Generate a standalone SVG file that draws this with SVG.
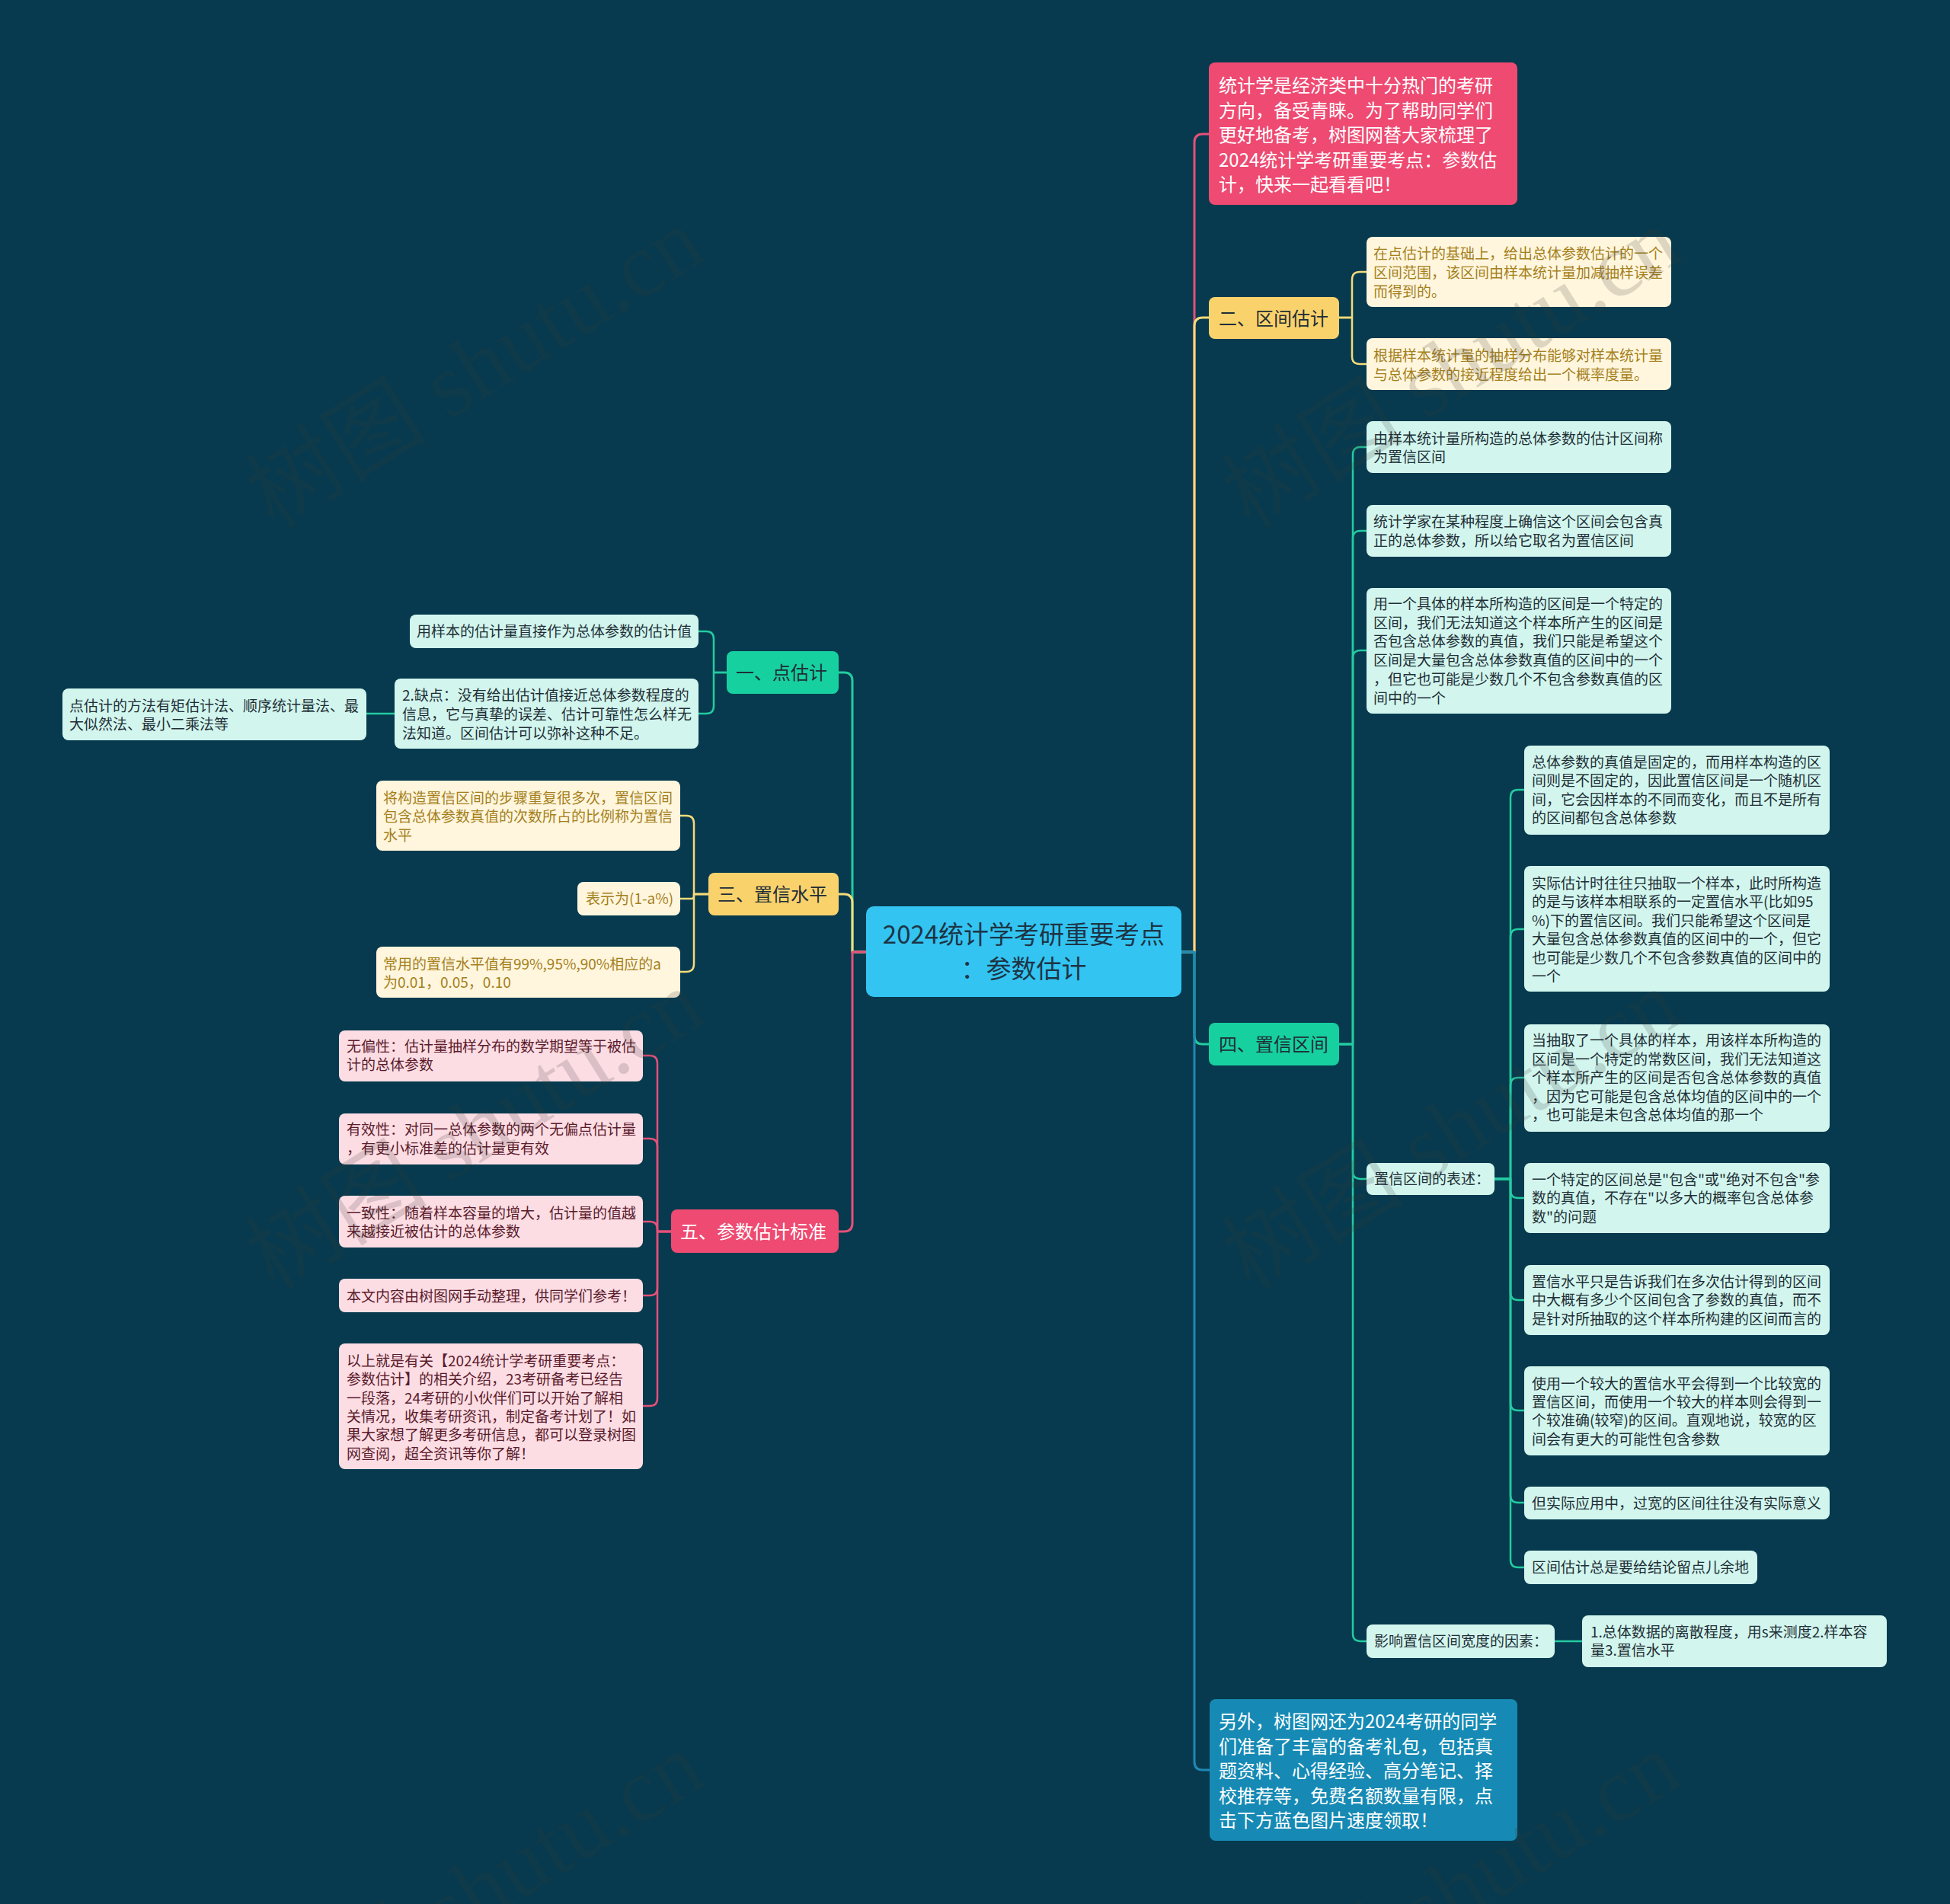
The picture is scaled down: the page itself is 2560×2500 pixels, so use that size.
<svg xmlns="http://www.w3.org/2000/svg" width="2560" height="2500" viewBox="0 0 2560 2500">
<style>
text{font-family:"Noto Sans CJK SC","Noto Sans",sans-serif}
.s{font-size:19px}
.m{font-size:24px}
.dk{fill:#1F2E36}
.gd{fill:#A57F1C}
.mr{fill:#5B1B2B}
.wh{fill:#FFFFFF}
.mint{fill:#D2F6EE}
.cream{fill:#FFF6DD}
.rose{fill:#FCDDE4}
.pk{fill:#EE4A72}
.yl{fill:#FAD26C}
.gr{fill:#17D0A0}
.bl{fill:#168AB4}
.ln{fill:none;stroke-linecap:round;stroke-linejoin:round}
.w3{stroke-width:3}
.w2{stroke-width:2.5}
.cp{stroke:#E5507A}
.cy{stroke:#F5DB7A}
.cg{stroke:#24CBA0}
.cb{stroke:#2188B5}
.wm{font-family:"Liberation Serif","Noto Sans CJK SC",serif;font-size:120px;fill:#3A3A3A;opacity:0.17}
</style>
<rect x="0" y="0" width="2560" height="2500" fill="#073A4E"/>

<g id="connectors">
  <path class="ln w3 cp" d="M1551,1250 H1568 V187 Q1568,176 1579,176 H1587"/>
  <path class="ln w3 cy" d="M1551,1250 H1568 V428 Q1568,417 1579,417 H1587"/>
  <path class="ln w3 cg" d="M1551,1250 H1568 V1360 Q1568,1371 1579,1371 H1587"/>
  <path class="ln w3 cb" d="M1551,1250 H1568 V2313 Q1568,2324 1579,2324 H1588"/>
  <path class="ln w3 cg" d="M1137,1250 H1119 V894 Q1119,883 1108,883 H1101"/>
  <path class="ln w3 cy" d="M1137,1250 H1119 V1185 Q1119,1174 1108,1174 H1101"/>
  <path class="ln w3 cp" d="M1137,1250 H1119 V1606 Q1119,1617 1108,1617 H1101"/>
  <path class="ln w2 cy" d="M1758,417 H1775 V367 Q1775,357 1785,357 H1794"/>
  <path class="ln w2 cy" d="M1758,417 H1775 V468 Q1775,478 1785,478 H1794"/>
  <path class="ln w2 cg" d="M1758,1371 H1776 V597 Q1776,587 1786,587 H1794"/>
  <path class="ln w2 cg" d="M1758,1371 H1776 V707 Q1776,697 1786,697 H1794"/>
  <path class="ln w2 cg" d="M1758,1371 H1776 V864 Q1776,854 1786,854 H1794"/>
  <path class="ln w2 cg" d="M1758,1371 H1776 V1538 Q1776,1548 1786,1548 H1794"/>
  <path class="ln w2 cg" d="M1758,1371 H1776 V2145 Q1776,2155 1786,2155 H1794"/>
  <path class="ln w2 cg" d="M1962,1548 H1983 V1047 Q1983,1037 1993,1037 H2001"/>
  <path class="ln w2 cg" d="M1962,1548 H1983 V1230 Q1983,1220 1993,1220 H2001"/>
  <path class="ln w2 cg" d="M1962,1548 H1983 V1425 Q1983,1415 1993,1415 H2001"/>
  <path class="ln w2 cg" d="M1962,1548 H1983 V1563 Q1983,1573 1993,1573 H2001"/>
  <path class="ln w2 cg" d="M1962,1548 H1983 V1697 Q1983,1707 1993,1707 H2001"/>
  <path class="ln w2 cg" d="M1962,1548 H1983 V1842 Q1983,1852 1993,1852 H2001"/>
  <path class="ln w2 cg" d="M1962,1548 H1983 V1963 Q1983,1973 1993,1973 H2001"/>
  <path class="ln w2 cg" d="M1962,1548 H1983 V2048 Q1983,2058 1993,2058 H2001"/>
  <path class="ln w2 cg" d="M2041,2155 H2077"/>
  <path class="ln w2 cg" d="M954,883 H937 V839 Q937,829 927,829 H917"/>
  <path class="ln w2 cg" d="M954,883 H937 V927 Q937,937 927,937 H917"/>
  <path class="ln w2 cg" d="M518,937 H481"/>
  <path class="ln w2 cy" d="M930,1174 H911 V1081 Q911,1071 901,1071 H893"/>
  <path class="ln w2 cy" d="M930,1174 H911 V1177 Q911,1180 908,1180 H893"/>
  <path class="ln w2 cy" d="M930,1174 H911 V1266 Q911,1276 901,1276 H893"/>
  <path class="ln w2 cp" d="M881,1617 H863 V1396 Q863,1386 853,1386 H844"/>
  <path class="ln w2 cp" d="M881,1617 H863 V1505 Q863,1495 853,1495 H844"/>
  <path class="ln w2 cp" d="M881,1617 H863 V1614 Q863,1604 853,1604 H844"/>
  <path class="ln w2 cp" d="M881,1617 H863 V1691 Q863,1701 853,1701 H844"/>
  <path class="ln w2 cp" d="M881,1617 H863 V1836 Q863,1846 853,1846 H844"/>
</g>

<g id="center">
  <rect x="1137" y="1190" width="414" height="119" rx="10" fill="#33C4F2"/>
  <text x="1344" y="1239" font-size="33" text-anchor="middle" fill="#1D3545">2024统计学考研重要考点</text>
  <text x="1344" y="1284" font-size="33" text-anchor="middle" fill="#1D3545">：参数估计</text>
</g>

<g id="intro">
  <rect class="pk" x="1587" y="82" width="405" height="187" rx="8"/>
  <text class="m wh" x="1600" y="121">统计学是经济类中十分热门的考研</text>
  <text class="m wh" x="1600" y="153.5">方向，备受青睐。为了帮助同学们</text>
  <text class="m wh" x="1600" y="186">更好地备考，树图网替大家梳理了</text>
  <text class="m wh" x="1600" y="218.5">2024统计学考研重要考点：参数估</text>
  <text class="m wh" x="1600" y="251">计，快来一起看看吧！</text>
</g>

<g id="b2">
  <rect class="yl" x="1587" y="390" width="171" height="55" rx="8"/>
  <text class="m dk" x="1600" y="427">二、区间估计</text>
</g>
<g id="b2c1">
  <rect class="cream" x="1794" y="311" width="400" height="92" rx="8"/>
  <text class="s gd" x="1803" y="340">在点估计的基础上，给出总体参数估计的一个</text>
  <text class="s gd" x="1803" y="365">区间范围，该区间由样本统计量加减抽样误差</text>
  <text class="s gd" x="1803" y="390">而得到的。</text>
</g>
<g id="b2c2">
  <rect class="cream" x="1794" y="444" width="400" height="68" rx="8"/>
  <text class="s gd" x="1803" y="474">根据样本统计量的抽样分布能够对样本统计量</text>
  <text class="s gd" x="1803" y="499">与总体参数的接近程度给出一个概率度量。</text>
</g>

<g id="b4">
  <rect class="gr" x="1587" y="1343" width="171" height="56" rx="8"/>
  <text class="m dk" x="1600" y="1380">四、置信区间</text>
</g>
<g id="b4a">
  <rect class="mint" x="1794" y="553" width="400" height="68" rx="8"/>
  <text class="s dk" x="1803" y="583">由样本统计量所构造的总体参数的估计区间称</text>
  <text class="s dk" x="1803" y="607">为置信区间</text>
</g>
<g id="b4b">
  <rect class="mint" x="1794" y="663" width="400" height="68" rx="8"/>
  <text class="s dk" x="1803" y="692">统计学家在某种程度上确信这个区间会包含真</text>
  <text class="s dk" x="1803" y="717">正的总体参数，所以给它取名为置信区间</text>
</g>
<g id="b4c">
  <rect class="mint" x="1794" y="772" width="400" height="165" rx="8"/>
  <text class="s dk" x="1803" y="800">用一个具体的样本所构造的区间是一个特定的</text>
  <text class="s dk" x="1803" y="825">区间，我们无法知道这个样本所产生的区间是</text>
  <text class="s dk" x="1803" y="849">否包含总体参数的真值，我们只能是希望这个</text>
  <text class="s dk" x="1803" y="874">区间是大量包含总体参数真值的区间中的一个</text>
  <text class="s dk" x="1803" y="899">，但它也可能是少数几个不包含参数真值的区</text>
  <text class="s dk" x="1803" y="924">间中的一个</text>
</g>
<g id="b4d">
  <rect class="mint" x="1794" y="1527" width="168" height="42" rx="8"/>
  <text class="s dk" x="1804" y="1555">置信区间的表述：</text>
</g>
<g id="d1">
  <rect class="mint" x="2001" y="979" width="401" height="117" rx="8"/>
  <text class="s dk" x="2011" y="1008">总体参数的真值是固定的，而用样本构造的区</text>
  <text class="s dk" x="2011" y="1032">间则是不固定的，因此置信区间是一个随机区</text>
  <text class="s dk" x="2011" y="1057">间，它会因样本的不同而变化，而且不是所有</text>
  <text class="s dk" x="2011" y="1081">的区间都包含总体参数</text>
</g>
<g id="d2">
  <rect class="mint" x="2001" y="1137" width="401" height="165" rx="8"/>
  <text class="s dk" x="2011" y="1167">实际估计时往往只抽取一个样本，此时所构造</text>
  <text class="s dk" x="2011" y="1191">的是与该样本相联系的一定置信水平(比如95</text>
  <text class="s dk" x="2011" y="1216">%)下的置信区间。我们只能希望这个区间是</text>
  <text class="s dk" x="2011" y="1240">大量包含总体参数真值的区间中的一个，但它</text>
  <text class="s dk" x="2011" y="1265">也可能是少数几个不包含参数真值的区间中的</text>
  <text class="s dk" x="2011" y="1289">一个</text>
</g>
<g id="d3">
  <rect class="mint" x="2001" y="1345" width="401" height="141" rx="8"/>
  <text class="s dk" x="2011" y="1373">当抽取了一个具体的样本，用该样本所构造的</text>
  <text class="s dk" x="2011" y="1398">区间是一个特定的常数区间，我们无法知道这</text>
  <text class="s dk" x="2011" y="1422">个样本所产生的区间是否包含总体参数的真值</text>
  <text class="s dk" x="2011" y="1447">，因为它可能是包含总体均值的区间中的一个</text>
  <text class="s dk" x="2011" y="1471">，也可能是未包含总体均值的那一个</text>
</g>
<g id="d4">
  <rect class="mint" x="2001" y="1527" width="401" height="92" rx="8"/>
  <text class="s dk" x="2011" y="1556">一个特定的区间总是"包含"或"绝对不包含"参</text>
  <text class="s dk" x="2011" y="1580">数的真值，不存在"以多大的概率包含总体参</text>
  <text class="s dk" x="2011" y="1605">数"的问题</text>
</g>
<g id="d5">
  <rect class="mint" x="2001" y="1661" width="401" height="92" rx="8"/>
  <text class="s dk" x="2011" y="1690">置信水平只是告诉我们在多次估计得到的区间</text>
  <text class="s dk" x="2011" y="1714">中大概有多少个区间包含了参数的真值，而不</text>
  <text class="s dk" x="2011" y="1739">是针对所抽取的这个样本所构建的区间而言的</text>
</g>
<g id="d6">
  <rect class="mint" x="2001" y="1794" width="401" height="117" rx="8"/>
  <text class="s dk" x="2011" y="1824">使用一个较大的置信水平会得到一个比较宽的</text>
  <text class="s dk" x="2011" y="1848">置信区间，而使用一个较大的样本则会得到一</text>
  <text class="s dk" x="2011" y="1872">个较准确(较窄)的区间。直观地说，较宽的区</text>
  <text class="s dk" x="2011" y="1897">间会有更大的可能性包含参数</text>
</g>
<g id="d7">
  <rect class="mint" x="2001" y="1952" width="401" height="43" rx="8"/>
  <text class="s dk" x="2011" y="1981">但实际应用中，过宽的区间往往没有实际意义</text>
</g>
<g id="d8">
  <rect class="mint" x="2001" y="2036" width="306" height="44" rx="8"/>
  <text class="s dk" x="2011" y="2065">区间估计总是要给结论留点儿余地</text>
</g>
<g id="b4e">
  <rect class="mint" x="1794" y="2133" width="247" height="44" rx="8"/>
  <text class="s dk" x="1804" y="2162">影响置信区间宽度的因素：</text>
</g>
<g id="b4e1">
  <rect class="mint" x="2077" y="2121" width="400" height="68" rx="8"/>
  <text class="s dk" x="2088" y="2150">1.总体数据的离散程度，用s来测度2.样本容</text>
  <text class="s dk" x="2088" y="2174">量3.置信水平</text>
</g>

<g id="extra">
  <rect class="bl" x="1588" y="2231" width="404" height="186" rx="8"/>
  <text class="m wh" x="1600" y="2269">另外，树图网还为2024考研的同学</text>
  <text class="m wh" x="1600" y="2301.5">们准备了丰富的备考礼包，包括真</text>
  <text class="m wh" x="1600" y="2334">题资料、心得经验、高分笔记、择</text>
  <text class="m wh" x="1600" y="2366.5">校推荐等，免费名额数量有限，点</text>
  <text class="m wh" x="1600" y="2399">击下方蓝色图片速度领取！</text>
</g>

<g id="b1">
  <rect class="gr" x="954" y="855" width="147" height="56" rx="8"/>
  <text class="m dk" x="966" y="892">一、点估计</text>
</g>
<g id="b1a">
  <rect class="mint" x="538" y="807" width="379" height="44" rx="8"/>
  <text class="s dk" x="547" y="836">用样本的估计量直接作为总体参数的估计值</text>
</g>
<g id="b1b">
  <rect class="mint" x="518" y="891" width="399" height="92" rx="8"/>
  <text class="s dk" x="528" y="920">2.缺点：没有给出估计值接近总体参数程度的</text>
  <text class="s dk" x="528" y="945">信息，它与真挚的误差、估计可靠性怎么样无</text>
  <text class="s dk" x="528" y="970">法知道。区间估计可以弥补这种不足。</text>
</g>
<g id="b1b1">
  <rect class="mint" x="82" y="904" width="399" height="68" rx="8"/>
  <text class="s dk" x="91" y="934">点估计的方法有矩估计法、顺序统计量法、最</text>
  <text class="s dk" x="91" y="958">大似然法、最小二乘法等</text>
</g>

<g id="b3">
  <rect class="yl" x="930" y="1146" width="171" height="56" rx="8"/>
  <text class="m dk" x="942" y="1183">三、置信水平</text>
</g>
<g id="b3a">
  <rect class="cream" x="494" y="1025" width="399" height="92" rx="8"/>
  <text class="s gd" x="503" y="1055">将构造置信区间的步骤重复很多次，置信区间</text>
  <text class="s gd" x="503" y="1079">包含总体参数真值的次数所占的比例称为置信</text>
  <text class="s gd" x="503" y="1104">水平</text>
</g>
<g id="b3b">
  <rect class="cream" x="758" y="1158" width="135" height="44" rx="8"/>
  <text class="s gd" x="769" y="1187">表示为(1-a%)</text>
</g>
<g id="b3c">
  <rect class="cream" x="494" y="1243" width="399" height="67" rx="8"/>
  <text class="s gd" x="503" y="1273">常用的置信水平值有99%,95%,90%相应的a</text>
  <text class="s gd" x="503" y="1297">为0.01，0.05，0.10</text>
</g>

<g id="b5">
  <rect class="pk" x="881" y="1588" width="220" height="57" rx="8"/>
  <text class="m wh" x="893" y="1626">五、参数估计标准</text>
</g>
<g id="b5a">
  <rect class="rose" x="445" y="1353" width="399" height="67" rx="8"/>
  <text class="s mr" x="455" y="1381">无偏性：估计量抽样分布的数学期望等于被估</text>
  <text class="s mr" x="455" y="1405">计的总体参数</text>
</g>
<g id="b5b">
  <rect class="rose" x="445" y="1462" width="399" height="67" rx="8"/>
  <text class="s mr" x="455" y="1490">有效性：对同一总体参数的两个无偏点估计量</text>
  <text class="s mr" x="455" y="1515">，有更小标准差的估计量更有效</text>
</g>
<g id="b5c">
  <rect class="rose" x="445" y="1570" width="399" height="68" rx="8"/>
  <text class="s mr" x="455" y="1600">一致性：随着样本容量的增大，估计量的值越</text>
  <text class="s mr" x="455" y="1624">来越接近被估计的总体参数</text>
</g>
<g id="b5d">
  <rect class="rose" x="445" y="1679" width="399" height="44" rx="8"/>
  <text class="s mr" x="455" y="1709">本文内容由树图网手动整理，供同学们参考！</text>
</g>
<g id="b5e">
  <rect class="rose" x="445" y="1764" width="399" height="165" rx="8"/>
  <text class="s mr" x="455" y="1794">以上就是有关【2024统计学考研重要考点：</text>
  <text class="s mr" x="455" y="1818">参数估计】的相关介绍，23考研备考已经告</text>
  <text class="s mr" x="455" y="1843">一段落，24考研的小伙伴们可以开始了解相</text>
  <text class="s mr" x="455" y="1867">关情况，收集考研资讯，制定备考计划了！如</text>
  <text class="s mr" x="455" y="1891">果大家想了解更多考研信息，都可以登录树图</text>
  <text class="s mr" x="455" y="1916">网查阅，超全资讯等你了解！</text>
</g>

<g id="watermark">
  <text class="wm" text-anchor="middle" transform="translate(645,517) rotate(-32)">树图 shutu.cn</text>
  <text class="wm" text-anchor="middle" transform="translate(1927,517) rotate(-32)">树图 shutu.cn</text>
  <text class="wm" text-anchor="middle" transform="translate(645,1518) rotate(-32)">树图 shutu.cn</text>
  <text class="wm" text-anchor="middle" transform="translate(1927,1518) rotate(-32)">树图 shutu.cn</text>
  <text class="wm" text-anchor="middle" transform="translate(645,2519) rotate(-32)">树图 shutu.cn</text>
  <text class="wm" text-anchor="middle" transform="translate(1927,2519) rotate(-32)">树图 shutu.cn</text>
</g>
</svg>
